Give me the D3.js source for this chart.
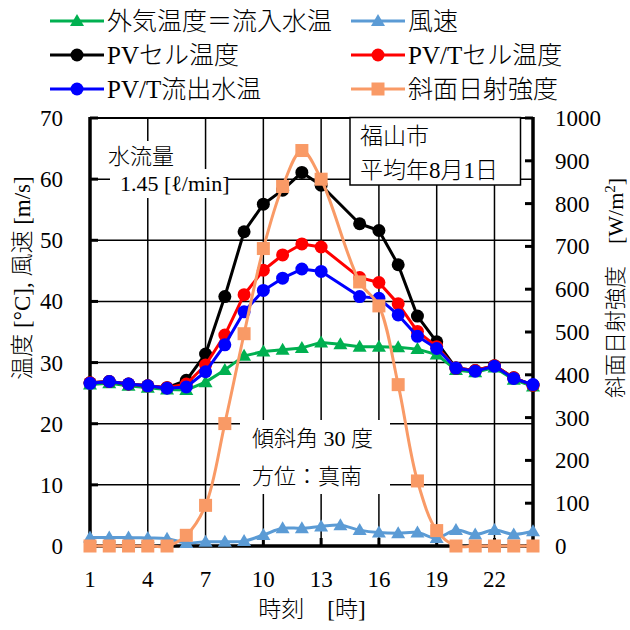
<!DOCTYPE html>
<html><head><meta charset="utf-8">
<script src="https://cdn.jsdelivr.net/npm/d3@7"></script>
<style>
html,body{margin:0;padding:0;background:#fff;}
svg text{font-family:"Liberation Serif","Noto Sans CJK JP",serif;fill:#000;}
</style></head>
<body><svg id="c" width="630" height="630"></svg>
<script>
// ---- data ----
const hours = [1,2,3,4,5,6,7,8,9,10,11,12,13,14,15,16,17,18,19,20,21,22,23,24];
const xTickLabels = [1,4,7,10,13,16,19,22];
const leftTicks = [0,10,20,30,40,50,60,70];
const rightTicks = [0,100,200,300,400,500,600,700,800,900,1000];
const outdoorTemp = [26.4,26.6,26.2,25.9,25.6,25.5,26.8,28.8,31.1,31.8,32.1,32.4,33.3,33.0,32.6,32.6,32.5,32.2,31.3,28.8,28.4,29.2,27.2,26.1];
const windSpeed  = [1.4,1.4,1.4,1.3,1.2,0.5,0.7,0.7,0.8,1.8,2.9,2.9,3.2,3.4,2.6,2.2,2.1,2.2,1.3,2.6,1.9,2.6,1.9,2.4];
const pvCell     = [26.7,26.9,26.5,26.2,25.9,27.1,31.4,40.8,51.4,55.9,58.2,61.1,59.0,null,52.7,51.6,46.0,37.6,33.4,29.1,28.7,29.5,27.5,26.3];
const pvtCell    = [26.7,26.9,26.5,26.2,25.9,26.5,29.6,34.5,41.1,45.1,47.6,49.4,48.9,null,43.9,43.1,39.6,35.1,32.6,29.1,28.7,29.5,27.5,26.3];
const pvtOut     = [26.6,26.9,26.5,26.2,25.8,26.0,28.5,32.9,38.3,41.8,43.8,45.3,44.9,null,40.8,40.5,37.8,34.3,32.3,29.1,28.6,29.4,27.4,26.4];
const irradiance = [0,0,0,0,0,25,95,286,496,695,840,924,857,null,617,561,377,152,36,0,0,0,0,0];

const svg = d3.select("#c");
const L=90,R=533,T=118,B=546;
const x = d3.scaleLinear().domain([1,24]).range([L,R]);
const yL = d3.scaleLinear().domain([0,70]).range([B,T]);
const yR = d3.scaleLinear().domain([0,1000]).range([B,T]);

svg.append("rect").attr("width",630).attr("height",630).attr("fill","#fff");

// gridlines
const g = svg.append("g");
g.selectAll("line.h").data(leftTicks.filter(d=>d>0)).join("line")
  .attr("x1",L).attr("x2",R).attr("y1",d=>yL(d)).attr("y2",d=>yL(d))
  .attr("stroke","#000").attr("stroke-width",d=>d===70?2:1.5);
g.selectAll("line.v").data(xTickLabels.filter(d=>d>1)).join("line")
  .attr("x1",d=>x(d)).attr("x2",d=>x(d)).attr("y1",T).attr("y2",B)
  .attr("stroke","#000").attr("stroke-width",1.5);

// text background boxes (inside plot)
svg.append("rect").attr("x",104).attr("y",141).attr("width",76).attr("height",28).attr("fill","#fff");
svg.append("rect").attr("x",110).attr("y",169).attr("width",118).attr("height",29).attr("fill","#fff");
svg.append("rect").attr("x",240).attr("y",420).attr("width",150).attr("height",74).attr("fill","#fff");

// axes
const ax = svg.append("g");
ax.append("line").attr("x1",L).attr("x2",L).attr("y1",T-1).attr("y2",B+1.5).attr("stroke","#000").attr("stroke-width",3.5);
ax.append("line").attr("x1",R).attr("x2",R).attr("y1",T-1).attr("y2",B+1.5).attr("stroke","#000").attr("stroke-width",3.5);
ax.append("line").attr("x1",L).attr("x2",R).attr("y1",B).attr("y2",B).attr("stroke","#000").attr("stroke-width",3.5);
ax.selectAll("line.lt").data(leftTicks).join("line")
  .attr("x1",L).attr("x2",L+8).attr("y1",d=>yL(d)).attr("y2",d=>yL(d)).attr("stroke","#000").attr("stroke-width",3);
ax.selectAll("line.rt").data(rightTicks).join("line")
  .attr("x1",R-8).attr("x2",R).attr("y1",d=>yR(d)).attr("y2",d=>yR(d)).attr("stroke","#000").attr("stroke-width",3);
ax.selectAll("line.xt").data(xTickLabels).join("line")
  .attr("x1",d=>x(d)).attr("x2",d=>x(d)).attr("y1",B).attr("y2",B-8).attr("stroke","#000").attr("stroke-width",3);

const fs = 23;
ax.selectAll("text.lt").data(leftTicks).join("text")
  .attr("x",L-27).attr("y",d=>yL(d)).attr("dy","0.35em").attr("text-anchor","end")
  .attr("font-size",fs).text(d=>d);
ax.selectAll("text.rt").data(rightTicks).join("text")
  .attr("x",R+22).attr("y",d=>yR(d)).attr("dy","0.35em").attr("text-anchor","start")
  .attr("font-size",fs).text(d=>d);
ax.selectAll("text.xt").data(xTickLabels).join("text")
  .attr("x",d=>x(d)).attr("y",B+33).attr("dy","0.35em").attr("text-anchor","middle")
  .attr("font-size",fs).text(d=>d);

// axis titles
svg.append("text").attr("transform","translate(30,278) rotate(-90)").attr("text-anchor","middle")
  .attr("font-size",fs).attr("font-weight",300).text("温度 [°C], 風速 [m/s]");
svg.append("text").attr("transform","translate(623,288) rotate(-90)").attr("text-anchor","middle")
  .attr("font-size",22).attr("font-weight",300).html("斜面日射強度　[W/m<tspan dy='-8' font-size='15'>2</tspan><tspan dy='8'>]</tspan>");
svg.append("text").attr("x",312).attr("y",617).attr("text-anchor","middle")
  .attr("font-size",fs).attr("font-weight",300).text("時刻　[時]");

// series
const series = [
  {name:"外気温度＝流入水温", vals:outdoorTemp, y:yL, color:"#00B050", marker:"tri", curve:d3.curveLinear},
  {name:"風速", vals:windSpeed, y:yL, color:"#5B9BD5", marker:"tri", curve:d3.curveCatmullRom.alpha(0.5)},
  {name:"PVセル温度", vals:pvCell, y:yL, color:"#000000", marker:"circle", curve:d3.curveLinear},
  {name:"PV/Tセル温度", vals:pvtCell, y:yL, color:"#FF0000", marker:"circle", curve:d3.curveLinear},
  {name:"PV/T流出水温", vals:pvtOut, y:yL, color:"#0000FF", marker:"circle", curve:d3.curveLinear},
  {name:"斜面日射強度", vals:irradiance, y:yR, color:"#F99A66", marker:"square", curve:d3.curveCatmullRom.alpha(0.5)}
];
function drawMarker(sel, type, color){
  if(type==="circle"){
    sel.append("circle").attr("r",6.5).attr("fill",color);
  } else if(type==="square"){
    sel.append("rect").attr("x",-6.5).attr("y",-6.5).attr("width",13).attr("height",13).attr("fill",color);
  } else {
    sel.append("path").attr("d","M0,-7L7,5L-7,5Z").attr("fill",color);
  }
}
series.forEach(s=>{
  const pts = hours.map((h,i)=>({h, v:s.vals[i]})).filter(d=>d.v!==null);
  const line = d3.line().x(d=>x(d.h)).y(d=>s.y(d.v)).curve(s.curve);
  const sg = svg.append("g");
  sg.append("path").attr("d",line(pts)).attr("fill","none").attr("stroke",s.color).attr("stroke-width",3).attr("stroke-linejoin","round");
  pts.forEach(p=>{
    const m = sg.append("g").attr("transform",`translate(${x(p.h)},${s.y(p.v)})`);
    drawMarker(m, s.marker, s.color);
  });
});

// annotations
svg.append("text").attr("x",108).attr("y",164).attr("font-size",22).attr("font-weight",300).text("水流量");
svg.append("text").attr("x",120).attr("y",191).attr("font-size",22).text("1.45 [ℓ/min]");
svg.append("text").attr("x",252).attr("y",446).attr("font-size",22).attr("font-weight",300).text("傾斜角 30 度");
svg.append("text").attr("x",252).attr("y",484).attr("font-size",22).attr("font-weight",300).text("方位：真南");
svg.append("rect").attr("x",350).attr("y",117.5).attr("width",170.5).attr("height",67.5)
  .attr("fill","#fff").attr("stroke","#000").attr("stroke-width",1.5);
svg.append("text").attr("x",360).attr("y",144).attr("font-size",23).attr("font-weight",300).text("福山市");
svg.append("text").attr("x",360).attr("y",178).attr("font-size",23).attr("font-weight",300).text("平均年8月1日");

// legend
const legCols = [50,351];
const legRows = [21,55,89];
const lg = svg.append("g");
series.forEach((s,i)=>{
  const col = i%2, row = Math.floor(i/2);
  const lx = legCols[col], ly = legRows[row];
  const gg = lg.append("g").attr("transform",`translate(${lx},${ly})`);
  gg.append("line").attr("x1",0).attr("x2",54).attr("y1",0).attr("y2",0).attr("stroke",s.color).attr("stroke-width",3);
  drawMarker(gg.append("g").attr("transform","translate(27,0)"), s.marker, s.color);
  gg.append("text").attr("x",57).attr("y",0).attr("dy","0.36em").attr("font-size",25).attr("font-weight",300).text(s.name);
});
</script></body></html>
